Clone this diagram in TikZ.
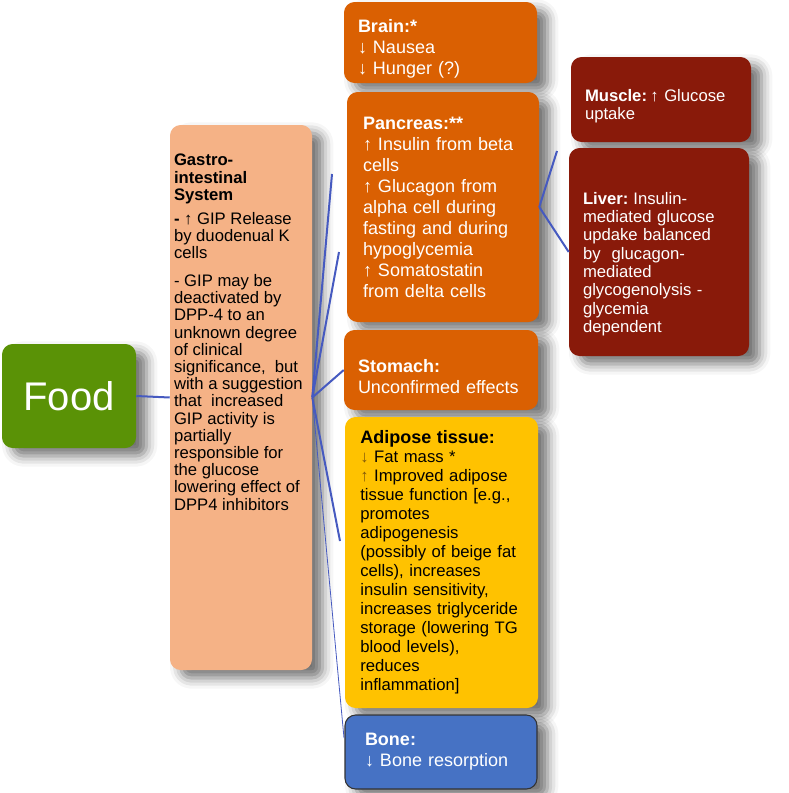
\documentclass[tikz,border=0pt]{standalone}
\usepackage{fontspec}
\setmainfont{Liberation Sans}
\usetikzlibrary{shadows.blur}
\definecolor{foodgreen}{RGB}{90,146,6}
\definecolor{gutpeach}{RGB}{245,178,134}
\definecolor{organorange}{RGB}{218,96,2}
\definecolor{tissuered}{RGB}{137,26,10}
\definecolor{fatyellow}{RGB}{255,194,0}
\definecolor{boneblue}{RGB}{70,114,196}
\definecolor{linkblue}{RGB}{70,90,192}
\definecolor{arrowtan}{RGB}{130,90,10}
\newcommand{\padtop}[1]{\rule{0pt}{#1}}
\tikzset{
  card/.style={rounded corners=8pt, inner ysep=0pt, align=left,
    blur shadow={shadow xshift=8pt, shadow yshift=-6pt, shadow blur radius=8pt, shadow opacity=55}},
  orangecard/.style={card, fill=organorange, text=white, font=\fontsize{13.5}{15.75}\selectfont},
  redcard/.style={card, fill=tissuered, text=white, font=\fontsize{12.5}{13.75}\selectfont,
    inner xsep=10.5pt, text width=114pt, minimum width=135pt},
  link/.style={draw=linkblue, line width=1.5pt},
}
\begin{document}
\begin{tikzpicture}[x=0.75pt,y=-0.75pt]
\useasboundingbox (0,0) rectangle (789,793);
% Food and the gut
\node[card, fill=foodgreen, text=white, align=center, font=\fontsize{30}{36}\selectfont,
  minimum width=100.5pt, minimum height=78pt] (food) at (69,396) {Food};
\node[card, fill=gutpeach, inner xsep=3pt, font=\fontsize{12.5}{12.9}\selectfont] (gut) at (241,397.5)
  {\parbox[c][408.75pt][t]{100.5pt}{\raggedright\vspace*{22pt}%
  \textbf{Gastro-\\intestinal\\System}\par\vspace{5pt}
  \textbf{-} ↑ GIP Release\\by duodenual K\\cells\par\vspace{8pt}
  - GIP may be\\deactivated by\\DPP-4 to an\\unknown degree\\of clinical\\significance,~ but\\with a suggestion\\that~ increased\\GIP activity is\\partially\\responsible for\\the glucose\\lowering effect of\\DPP4 inhibitors}};
% Organs
\node[orangecard, inner xsep=10.5pt, text width=123.75pt, minimum width=144.75pt, minimum height=60.75pt] (brain) at (440.5,42.5)
  {\padtop{19pt}\textbf{Brain:*}\\↓ Nausea\\↓ Hunger (?)};
\node[orangecard, inner xsep=12pt, text width=120pt, minimum width=144pt, minimum height=172.5pt] (pancreas) at (443,207)
  {\textbf{Pancreas:**}\\↑ Insulin from beta\\cells\\↑ Glucagon from\\alpha cell during\\fasting and during\\hypoglycemia\\↑ Somatostatin\\from delta cells};
\node[orangecard, inner xsep=10.5pt, text width=124.5pt, minimum width=145.5pt, minimum height=60pt] (stomach) at (441,370)
  {\padtop{20pt}\textbf{Stomach:}\\Unconfirmed effects};
\node[card, fill=fatyellow, text=black, font=\fontsize{12.5}{14.25}\selectfont,
  inner xsep=11.5pt, text width=121.75pt, minimum width=144.75pt, minimum height=218.25pt] (adipose) at (441.5,562.5)
  {\textbf{\fontsize{13.5}{14.25}\selectfont Adipose tissue:}\\{\color{arrowtan}↓} Fat mass *\\{\color{arrowtan}↑} Improved adipose\\tissue function [e.g.,\\promotes\\adipogenesis\\(possibly of beige fat\\cells), increases\\insulin sensitivity,\\increases triglyceride\\storage (lowering TG\\blood levels),\\reduces\\inflammation]};
\node[orangecard, fill=boneblue, draw=black!80, line width=0.8pt, inner xsep=15pt, text width=114pt,
  minimum width=144pt, minimum height=55.5pt] (bone) at (441,752)
  {\textbf{Bone:}\\↓ Bone resorption};
\node[redcard, minimum height=63.75pt] (muscle) at (661,99.5)
  {\padtop{19pt}\textbf{Muscle:}\hspace{0.2em}↑ Glucose\\uptake};
\node[redcard, minimum height=156pt] (liver) at (659,252)
  {\padtop{27pt}\textbf{Liver:}\hspace{0.3em}Insulin-\\mediated glucose\\updake balanced\\by~ glucagon-\\mediated\\glycogenolysis -\\glycemia\\dependent};
% Connectors
\coordinate (brainend) at (332,174);
\coordinate (pancend) at (339,252);
\coordinate (adipend) at (340,541);
\coordinate (boneend) at (344,738);
\coordinate (muscend) at (557,151);
\draw[link] (food.east) -- (gut.west);
\draw[link] (gut.east) -- (brainend);
\draw[link] (gut.east) -- (pancend);
\draw[link] (gut.east) -- (stomach.west);
\draw[link] (gut.east) -- (adipend);
\draw[link, line width=0.6pt] (gut.east) -- (boneend);
\draw[link] (pancreas.east) -- (muscend);
\draw[link] (pancreas.east) -- (liver.west);
\end{tikzpicture}
\end{document}
